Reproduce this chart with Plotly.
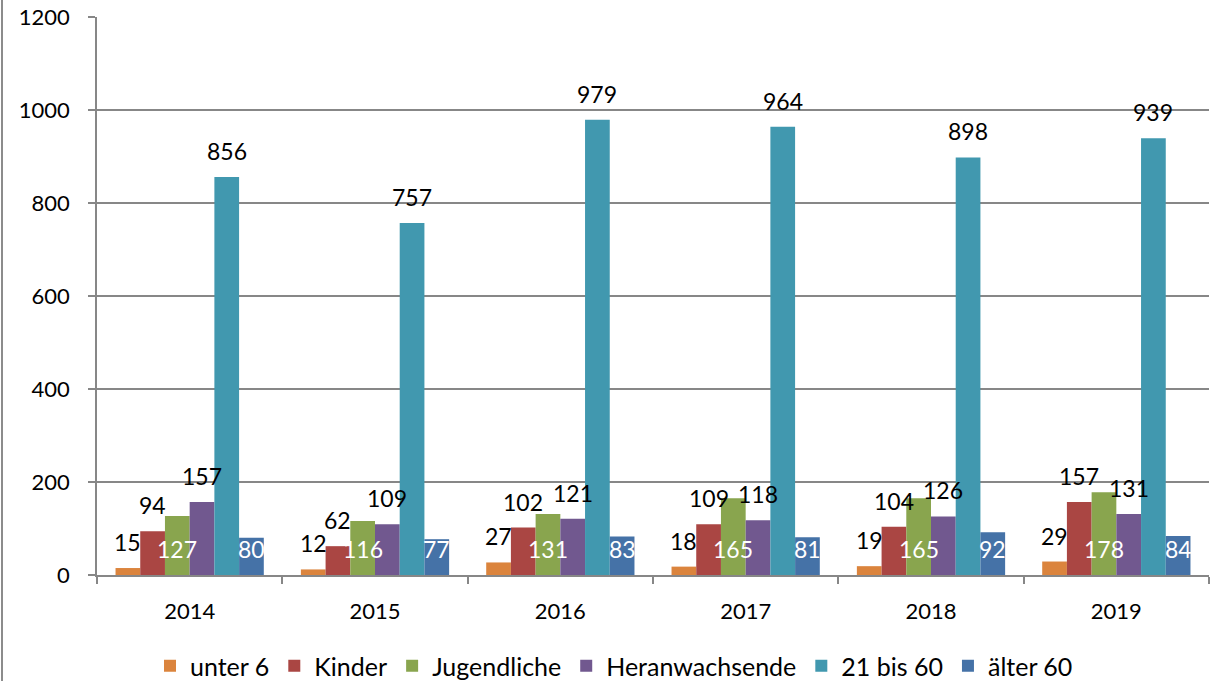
import plotly.graph_objects as go

years = ["2014", "2015", "2016", "2017", "2018", "2019"]
series_names = ["unter 6", "Kinder", "Jugendliche", "Heranwachsende", "21 bis 60", "älter 60"]
unter6 = [15, 12, 27, 18, 19, 29]
kinder = [94, 62, 102, 109, 104, 157]
jugendliche = [127, 116, 131, 165, 165, 178]
heranwachsende = [157, 109, 121, 118, 126, 131]
bis60 = [856, 757, 979, 964, 898, 939]
aelter60 = [80, 77, 83, 81, 92, 84]

series_values = [unter6, kinder, jugendliche, heranwachsende, bis60, aelter60]
colors = ["#DB843D", "#AA4643", "#89A54E", "#71588F", "#4198AF", "#4572A7"]
inside_label = [False, False, True, False, False, True]

W, H = 1223, 681
ML, MR, MT, MB = 97, 14, 17, 106
BARGAP = 0.2
plot_w = W - ML - MR
plot_h = H - MT - MB
n_groups = len(years)
n_series = len(series_names)
bar_px = plot_w / n_groups * (1 - BARGAP) / n_series

FONT = "Lato, 'Open Sans', sans-serif"
GRID = "#878787"

fig = go.Figure()
annotations = []
for i, (name, vals, col) in enumerate(zip(series_names, series_values, colors)):
    fig.add_trace(go.Bar(
        name=name, x=years, y=vals,
        marker=dict(color=col, line=dict(width=0)),
    ))
    xshift = (i - (n_series - 1) / 2) * bar_px
    for j, v in enumerate(vals):
        if inside_label[i]:
            annotations.append(dict(
                x=j, y=0, xref="x", yref="y", text=str(v), showarrow=False,
                xshift=xshift, yshift=26, yanchor="middle", xanchor="center",
                font=dict(family=FONT, size=23, color="white")))
        else:
            annotations.append(dict(
                x=j, y=v, xref="x", yref="y", text=str(v), showarrow=False,
                xshift=xshift, yshift=26, yanchor="middle", xanchor="center",
                font=dict(family=FONT, size=23, color="black")))

fig.update_layout(
    width=W, height=H, autosize=False,
    margin=dict(l=ML, r=MR, t=MT, b=MB, pad=0, autoexpand=False),
    paper_bgcolor="white", plot_bgcolor="white",
    barmode="group", bargap=BARGAP, bargroupgap=0,
    font=dict(family=FONT, size=22, color="black"),
    showlegend=True,
    legend=dict(orientation="h", x=(150 - ML) / plot_w, xanchor="left",
                y=-(666 - (H - MB)) / plot_h, yanchor="middle",
                font=dict(family=FONT, size=25, color="black"),
                traceorder="normal", itemclick=False),
    annotations=annotations,
    shapes=[dict(type="line", xref="paper", yref="paper",
                 x0=(2 - ML) / plot_w, x1=(2 - ML) / plot_w,
                 y0=-MB / plot_h, y1=1 + MT / plot_h,
                 line=dict(color="#8c8c8c", width=2))],
)
fig.update_yaxes(
    range=[0, 1200], dtick=200, tick0=0,
    showgrid=True, gridcolor=GRID, gridwidth=1.5,
    showline=True, linecolor=GRID, linewidth=1.5,
    ticks="outside", ticklen=7, tickcolor=GRID, tickwidth=1.5,
    ticklabelstandoff=14, zeroline=False,
    tickfont=dict(family=FONT, size=22, color="black"),
)
fig.update_xaxes(
    type="category", showgrid=False, range=[-0.5, n_groups - 0.5],
    showline=True, linecolor=GRID, linewidth=1.5,
    ticks="outside", ticklen=7, tickcolor=GRID, tickwidth=1.5,
    tickson="boundaries", ticklabelstandoff=16,
    tickfont=dict(family=FONT, size=22, color="black"),
)

fig.write_html("out.html", config={"displayModeBar": False},
               post_script="document.body.style.margin='0px';")
